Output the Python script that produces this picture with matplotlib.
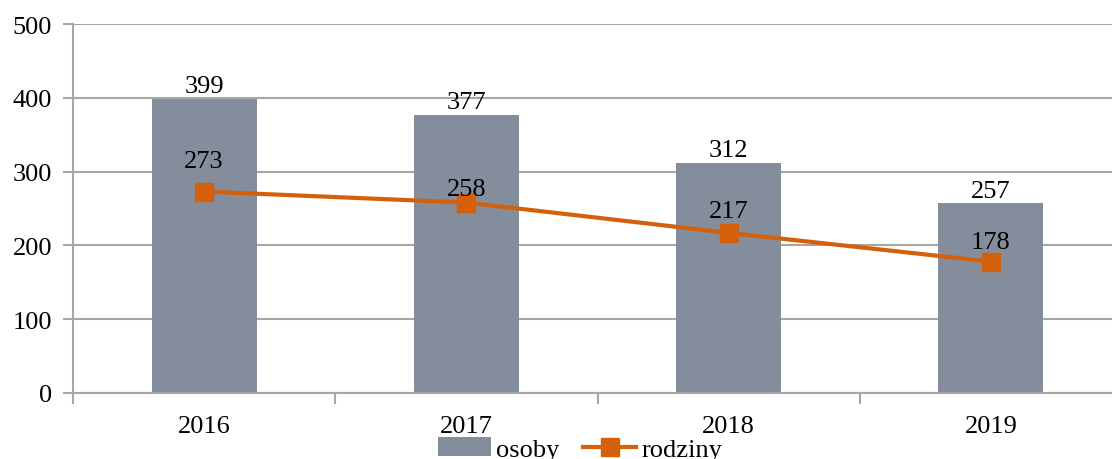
import matplotlib
matplotlib.use("Agg")
import matplotlib.pyplot as plt
import numpy as np

years = ["2016", "2017", "2018", "2019"]
osoby = [399, 377, 312, 257]
rodziny = [273, 258, 217, 178]

bar_color = "#848D9B"
line_color = "#D4600C"
grid_color = "#A6A6A6"
fs = 19

plt.rcParams["font.family"] = ["Liberation Serif", "DejaVu Serif"]

fig = plt.figure(figsize=(11.12, 4.6), dpi=100)
# the original is cropped on the right, so the axes run past the figure edge
ax = fig.add_axes([73 / 1112, (460 - 394) / 460, (1122 - 73) / 1112, (394 - 25) / 460])

x = np.arange(len(years))
bars = ax.bar(x, osoby, width=0.4, color=bar_color, label="osoby", zorder=2)
line, = ax.plot(x, rodziny, color=line_color, lw=3, marker="s", ms=13,
                label="rodziny", zorder=3)

for xi, v in zip(x, osoby):
    ax.annotate(str(v), (xi, v), xytext=(0, 1), textcoords="offset points",
                ha="center", va="bottom", fontsize=fs)

# excel placed the line labels a bit unevenly above the markers
line_label_dy = [14, 2, 8, 6.5]
for xi, v, dy in zip(x, rodziny, line_label_dy):
    ax.annotate(str(v), (xi, v), xytext=(0, dy), textcoords="offset points",
                ha="center", va="bottom", fontsize=fs, zorder=4)

ax.set_xlim(-0.5, 3.5)
ax.set_ylim(0, 500)
ax.set_yticks(range(0, 501, 100))
ax.yaxis.grid(True, color=grid_color, lw=1.5, zorder=0)
ax.set_axisbelow(True)

ax.set_xticks(x)
ax.set_xticklabels(years, fontsize=fs)
ax.set_xticks(np.arange(-0.5, 4, 1), minor=True)
ax.tick_params(axis="x", which="major", length=0, pad=16)
ax.tick_params(axis="x", which="minor", length=8, width=1.5, color=grid_color)
ax.tick_params(axis="y", length=7, width=1.5, color=grid_color, labelsize=fs, pad=8)

for side in ["top", "right"]:
    ax.spines[side].set_visible(False)
for side in ["left", "bottom"]:
    ax.spines[side].set_color(grid_color)
    ax.spines[side].set_linewidth(1.5)

fig.legend([bars, line], ["osoby", "rodziny"], loc="center",
           bbox_to_anchor=(580 / 1112, 1 - 450 / 460), ncol=2,
           frameon=False, fontsize=fs, handlelength=2.0, handletextpad=0.2,
           columnspacing=0.9, borderpad=0)

fig.savefig("out.png", dpi=100)
